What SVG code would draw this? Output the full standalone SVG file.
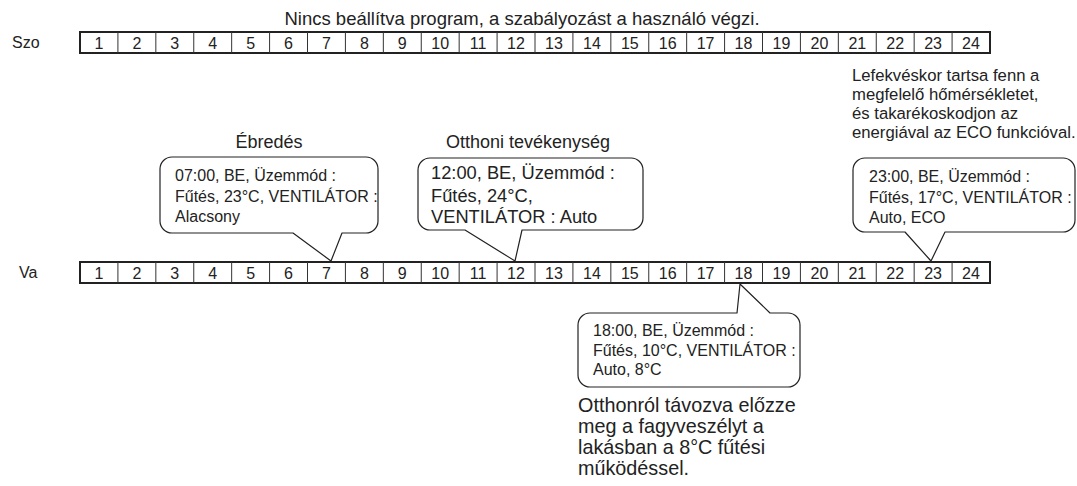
<svg xmlns="http://www.w3.org/2000/svg" width="1077" height="486" viewBox="0 0 1077 486">
<style>
text{font-family:"Liberation Sans",Arial,Helvetica,sans-serif;fill:#222}
.num{font-size:16px;text-anchor:middle}
.lbl{font-size:16px}
.ttl{font-size:18.5px;text-anchor:middle}
.cap{font-size:18px;text-anchor:middle}
.ct{font-size:16px}
.ct2{font-size:18.3px}
.note{font-size:16.7px}
.note2{font-size:19.8px}
.rowbox{fill:#fff;stroke:#222;stroke-width:2}
.div{fill:none;stroke:#333;stroke-width:1}
.bub{fill:#fff;stroke:#222;stroke-width:1.2;stroke-linejoin:round}
</style>
<rect width="1077" height="486" fill="#fff"/>
<g id="title"><text class="ttl" x="522" y="25">Nincs beállítva program, a szabályozást a használó végzi.</text></g>
<g id="row-szo">
<text class="lbl" x="12" y="48">Szo</text>
<rect class="rowbox" x="80" y="32" width="910" height="21"/>
<path class="div" d="M117.92,32V53M155.83,32V53M193.75,32V53M231.67,32V53M269.58,32V53M307.5,32V53M345.42,32V53M383.33,32V53M421.25,32V53M459.17,32V53M497.08,32V53M535,32V53M572.92,32V53M610.83,32V53M648.75,32V53M686.67,32V53M724.58,32V53M762.5,32V53M800.42,32V53M838.33,32V53M876.25,32V53M914.17,32V53M952.08,32V53"/>
<g class="cells">
<text class="num" x="99" y="48.5">1</text><text class="num" x="136.9" y="48.5">2</text><text class="num" x="174.8" y="48.5">3</text><text class="num" x="212.7" y="48.5">4</text><text class="num" x="250.6" y="48.5">5</text><text class="num" x="288.5" y="48.5">6</text><text class="num" x="326.5" y="48.5">7</text><text class="num" x="364.4" y="48.5">8</text><text class="num" x="402.3" y="48.5">9</text><text class="num" x="440.2" y="48.5">10</text><text class="num" x="478.1" y="48.5">11</text><text class="num" x="516" y="48.5">12</text><text class="num" x="554" y="48.5">13</text><text class="num" x="591.9" y="48.5">14</text><text class="num" x="629.8" y="48.5">15</text><text class="num" x="667.7" y="48.5">16</text><text class="num" x="705.6" y="48.5">17</text><text class="num" x="743.5" y="48.5">18</text><text class="num" x="781.5" y="48.5">19</text><text class="num" x="819.4" y="48.5">20</text><text class="num" x="857.3" y="48.5">21</text><text class="num" x="895.2" y="48.5">22</text><text class="num" x="933.1" y="48.5">23</text><text class="num" x="971" y="48.5">24</text>
</g>
</g>
<g id="row-va">
<text class="lbl" x="19" y="278">Va</text>
<rect class="rowbox" x="80" y="262" width="910" height="21"/>
<path class="div" d="M117.92,262V283M155.83,262V283M193.75,262V283M231.67,262V283M269.58,262V283M307.5,262V283M345.42,262V283M383.33,262V283M421.25,262V283M459.17,262V283M497.08,262V283M535,262V283M572.92,262V283M610.83,262V283M648.75,262V283M686.67,262V283M724.58,262V283M762.5,262V283M800.42,262V283M838.33,262V283M876.25,262V283M914.17,262V283M952.08,262V283"/>
<g class="cells">
<text class="num" x="99" y="278.5">1</text><text class="num" x="136.9" y="278.5">2</text><text class="num" x="174.8" y="278.5">3</text><text class="num" x="212.7" y="278.5">4</text><text class="num" x="250.6" y="278.5">5</text><text class="num" x="288.5" y="278.5">6</text><text class="num" x="326.5" y="278.5">7</text><text class="num" x="364.4" y="278.5">8</text><text class="num" x="402.3" y="278.5">9</text><text class="num" x="440.2" y="278.5">10</text><text class="num" x="478.1" y="278.5">11</text><text class="num" x="516" y="278.5">12</text><text class="num" x="554" y="278.5">13</text><text class="num" x="591.9" y="278.5">14</text><text class="num" x="629.8" y="278.5">15</text><text class="num" x="667.7" y="278.5">16</text><text class="num" x="705.6" y="278.5">17</text><text class="num" x="743.5" y="278.5">18</text><text class="num" x="781.5" y="278.5">19</text><text class="num" x="819.4" y="278.5">20</text><text class="num" x="857.3" y="278.5">21</text><text class="num" x="895.2" y="278.5">22</text><text class="num" x="933.1" y="278.5">23</text><text class="num" x="971" y="278.5">24</text>
</g>
</g>
<g id="callout-0700">
<text class="cap" x="269" y="148">Ébredés</text>
<path class="bub" d="M172,157H366A12,12 0 0 1 378,169V221A12,12 0 0 1 366,233H342L331,261L293,233H172A12,12 0 0 1 160,221V169A12,12 0 0 1 172,157Z"/>
<text class="ct" x="175" y="181">07:00, BE, Üzemmód :</text>
<text class="ct" x="175" y="201.5">Fűtés, 23°C, VENTILÁTOR :</text>
<text class="ct" x="175" y="222">Alacsony</text>
</g>
<g id="callout-1200">
<text class="cap" x="528" y="148">Otthoni tevékenység</text>
<path class="bub" d="M430,158H631A12,12 0 0 1 643,170V218A12,12 0 0 1 631,230H522L515,261L465,230H430A12,12 0 0 1 418,218V170A12,12 0 0 1 430,158Z"/>
<text class="ct2" x="431" y="179">12:00, BE, Üzemmód :</text>
<text class="ct2" x="431" y="201.5">Fűtés, 24°C,</text>
<text class="ct2" x="431" y="222.5">VENTILÁTOR : Auto</text>
</g>
<g id="callout-2300">
<text class="note" x="852" y="81">Lefekvéskor tartsa fenn a</text>
<text class="note" x="852" y="100">megfelelő hőmérsékletet,</text>
<text class="note" x="852" y="119">és takarékoskodjon az</text>
<text class="note" x="852" y="138">energiával az ECO funkcióval.</text>
<path class="bub" d="M865,158H1063A12,12 0 0 1 1075,170V220A12,12 0 0 1 1063,232H945L931,261L905,232H865A12,12 0 0 1 853,220V170A12,12 0 0 1 865,158Z"/>
<text class="ct" x="869" y="181.5">23:00, BE, Üzemmód :</text>
<text class="ct" x="869" y="202.5">Fűtés, 17°C, VENTILÁTOR :</text>
<text class="ct" x="869" y="222.5">Auto, ECO</text>
</g>
<g id="callout-1800">
<path class="bub" d="M590,313H737L740,284L770,313H788A12,12 0 0 1 800,325V375A12,12 0 0 1 788,387H590A12,12 0 0 1 578,375V325A12,12 0 0 1 590,313Z"/>
<text class="ct" x="593" y="336">18:00, BE, Üzemmód :</text>
<text class="ct" x="593" y="356">Fűtés, 10°C, VENTILÁTOR :</text>
<text class="ct" x="593" y="375">Auto, 8°C</text>
<text class="note2" x="578" y="412">Otthonról távozva előzze</text>
<text class="note2" x="578" y="433">meg a fagyveszélyt a</text>
<text class="note2" x="578" y="454">lakásban a 8°C fűtési</text>
<text class="note2" x="578" y="475">működéssel.</text>
</g>
</svg>
